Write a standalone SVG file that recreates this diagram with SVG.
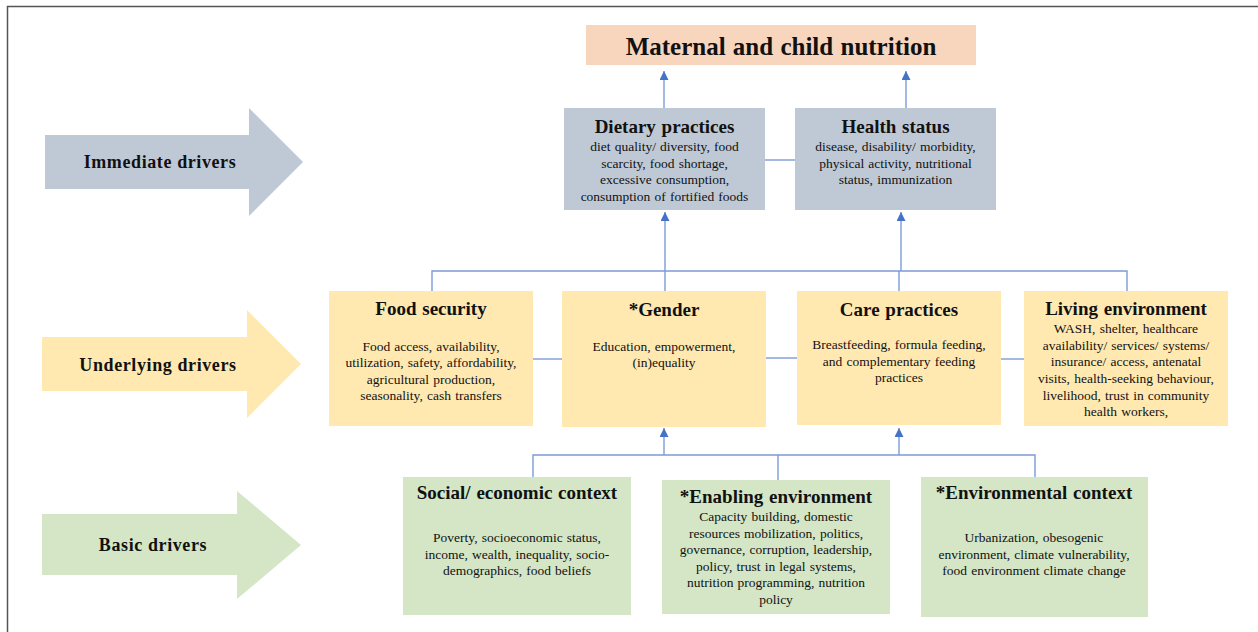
<svg xmlns="http://www.w3.org/2000/svg" width="1258" height="632" viewBox="0 0 1258 632">
<style>
.t{font-family:"Liberation Serif","Times New Roman",serif;fill:#111;text-anchor:middle}
.h{font-weight:bold;font-size:19px;word-spacing:1px}
.b{font-size:13.5px;word-spacing:0.8px}
.lh{font-weight:bold;font-size:18px;letter-spacing:0.6px}
.blue{fill:#BFC9D6}
.yel{fill:#FFE9B1}
.grn{fill:#D4E6C6}
.c{fill:none;stroke:#7C9BD8;stroke-width:1.4}
</style>
<defs>
<marker id="ah" viewBox="0 0 10 10" refX="10" refY="5" markerWidth="9" markerHeight="9" markerUnits="userSpaceOnUse" orient="auto">
<path d="M0,0 L10,5 L0,10 z" fill="#4472C4"/>
</marker>
</defs>
<rect width="1258" height="632" fill="#fff"/>
<path d="M7.5,632 V6.5 H1258" fill="none" stroke="#555" stroke-width="1.5"/>

<g id="arrow-immediate">
<path class="blue" d="M45,135 H249 V108 L303,162 L249,216 V189 H45 z"/>
<text class="t lh" x="160" y="168">Immediate drivers</text>
</g>
<g id="arrow-underlying">
<path class="yel" d="M42,337 H247 V310 L301,364 L247,418 V391 H42 z"/>
<text class="t lh" x="158" y="371">Underlying drivers</text>
</g>
<g id="arrow-basic">
<path class="grn" d="M42,514 H237 V491 L301,545 L237,599 V575 H42 z"/>
<text class="t lh" x="153" y="551">Basic drivers</text>
</g>

<g id="connectors">
<path class="c" d="M664,108 V71" marker-end="url(#ah)"/>
<path class="c" d="M906,108 V71" marker-end="url(#ah)"/>
<path class="c" d="M765,160 H795"/>
<path class="c" d="M432,291 V271 H1127 V291"/>
<path class="c" d="M665,291 V212" marker-end="url(#ah)"/>
<path class="c" d="M899,291 V271"/>
<path class="c" d="M901,271 V212" marker-end="url(#ah)"/>
<path class="c" d="M533,359 H562"/>
<path class="c" d="M766,358 H797"/>
<path class="c" d="M1001,359 H1024"/>
<path class="c" d="M533,477 V455 H1035 V477"/>
<path class="c" d="M778,480 V455"/>
<path class="c" d="M664,455 V428" marker-end="url(#ah)"/>
<path class="c" d="M899,455 V428" marker-end="url(#ah)"/>
</g>

<g id="maternal-child-nutrition">
<rect x="586" y="25" width="390" height="40" fill="#F8D5BD"/>
<text class="t" x="781" y="55" font-weight="bold" font-size="25" word-spacing="1">Maternal and child nutrition</text>
</g>

<g id="dietary-practices">
<rect class="blue" x="564" y="108" width="201" height="102"/>
<text class="t h" x="664.5" y="133">Dietary practices</text>
<text class="t b" x="664.5" y="151">diet quality/ diversity,  food</text>
<text class="t b" x="664.5" y="168">scarcity,  food shortage,</text>
<text class="t b" x="664.5" y="184">excessive consumption,</text>
<text class="t b" x="664.5" y="201">consumption of fortified foods</text>
</g>

<g id="health-status">
<rect class="blue" x="795" y="108" width="201" height="102"/>
<text class="t h" x="895.5" y="133">Health status</text>
<text class="t b" x="895.5" y="151">disease, disability/ morbidity,</text>
<text class="t b" x="895.5" y="168">physical activity, nutritional</text>
<text class="t b" x="895.5" y="184">status, immunization</text>
</g>

<g id="food-security">
<rect class="yel" x="329" y="291" width="204" height="135"/>
<text class="t h" x="431" y="315">Food security</text>
<text class="t b" x="431" y="351">Food access,  availability,</text>
<text class="t b" x="431" y="367">utilization, safety,  affordability,</text>
<text class="t b" x="431" y="384">agricultural production,</text>
<text class="t b" x="431" y="400">seasonality,  cash transfers</text>
</g>

<g id="gender">
<rect class="yel" x="562" y="291" width="204" height="136"/>
<text class="t h" x="664" y="316">*Gender</text>
<text class="t b" x="664" y="351">Education, empowerment,</text>
<text class="t b" x="664" y="367">(in)equality</text>
</g>

<g id="care-practices">
<rect class="yel" x="797" y="291" width="204" height="134"/>
<text class="t h" x="899" y="316">Care practices</text>
<text class="t b" x="899" y="349">Breastfeeding,  formula feeding,</text>
<text class="t b" x="899" y="366">and complementary  feeding</text>
<text class="t b" x="899" y="382">practices</text>
</g>

<g id="living-environment">
<rect class="yel" x="1024" y="291" width="204" height="135"/>
<text class="t h" x="1126" y="315">Living environment</text>
<text class="t b" x="1126" y="333">WASH,  shelter,  healthcare</text>
<text class="t b" x="1126" y="350">availability/  services/  systems/</text>
<text class="t b" x="1126" y="366">insurance/  access,  antenatal</text>
<text class="t b" x="1126" y="383">visits, health-seeking  behaviour,</text>
<text class="t b" x="1126" y="400">livelihood, trust in community</text>
<text class="t b" x="1126" y="416">health workers,</text>
</g>

<g id="social-economic-context">
<rect class="grn" x="403" y="477" width="228" height="138"/>
<text class="t h" x="517" y="499">Social/  economic  context</text>
<text class="t b" x="517" y="542">Poverty,  socioeconomic status,</text>
<text class="t b" x="517" y="559">income,  wealth,  inequality,  socio-</text>
<text class="t b" x="517" y="575">demographics,  food beliefs</text>
</g>

<g id="enabling-environment">
<rect class="grn" x="662" y="480" width="228" height="134"/>
<text class="t h" x="776" y="503">*Enabling environment</text>
<text class="t b" x="776" y="521">Capacity building,  domestic</text>
<text class="t b" x="776" y="538">resources mobilization,  politics,</text>
<text class="t b" x="776" y="554">governance,  corruption, leadership,</text>
<text class="t b" x="776" y="571">policy, trust in legal systems,</text>
<text class="t b" x="776" y="587">nutrition programming,  nutrition</text>
<text class="t b" x="776" y="604">policy</text>
</g>

<g id="environmental-context">
<rect class="grn" x="921" y="477" width="227" height="140"/>
<text class="t h" x="1034" y="499">*Environmental  context</text>
<text class="t b" x="1034" y="542">Urbanization,  obesogenic</text>
<text class="t b" x="1034" y="559">environment,  climate vulnerability,</text>
<text class="t b" x="1034" y="575">food environment  climate change</text>
</g>
</svg>
